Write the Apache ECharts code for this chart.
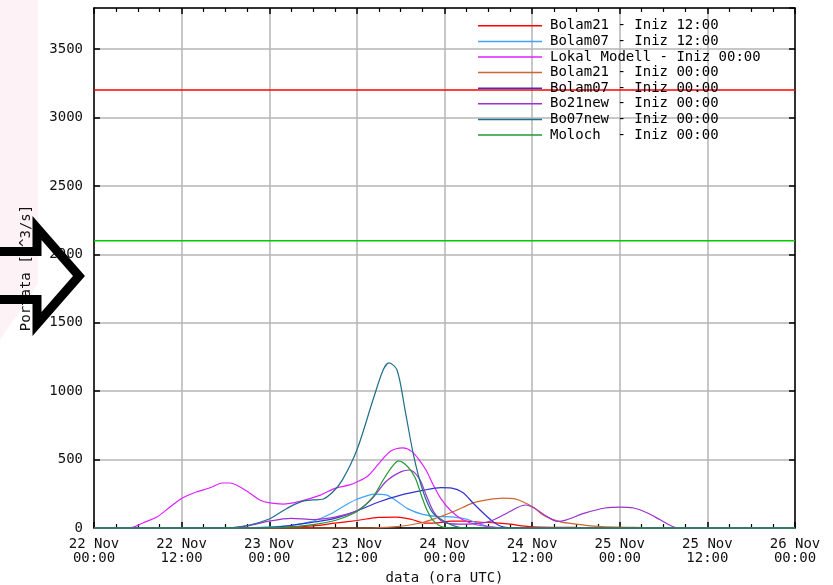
<!DOCTYPE html>
<html>
<head>
<meta charset="utf-8">
<script src="https://cdn.jsdelivr.net/npm/echarts@6/dist/echarts.min.js"></script>
<style>html,body{margin:0;padding:0;background:#fff;}#c{width:833px;height:585px;}</style>
</head>
<body>
<div id="c"></div>
<script>
// hours since 22 Nov 00:00 UTC
const xTickLabels = ['22 Nov\n00:00','22 Nov\n12:00','23 Nov\n00:00','23 Nov\n12:00','24 Nov\n00:00','24 Nov\n12:00','25 Nov\n00:00','25 Nov\n12:00','26 Nov\n00:00'];
const seriesNames = ['Bolam21 - Iniz 12:00','Bolam07 - Iniz 12:00','Lokal Modell - Iniz 00:00','Bolam21 - Iniz 00:00','Bolam07 - Iniz 00:00','Bo21new - Iniz 00:00','Bo07new - Iniz 00:00','Moloch  - Iniz 00:00'];
const seriesColors = ['#ff0000','#3ea2ff','#dd22ff','#cc6633','#3333cc','#9933cc','#1f6e8c','#229933'];

const bolam21_12_h = [0,22,26,30,33,36,39,41.5,43.5,45.5,47,49,51,53,55,57,59,61,66,75,77,96];
const bolam21_12_v = [0,0,5,15,35,55,78,80,62,35,38,50,50,42,38,28,14,7,4,2,0,0];

const bolam07_12_h = [0,20,24,27,30,32.3,34,36,38.5,40,41.5,43,45,47,49,51,52.5,54,56,96];
const bolam07_12_v = [0,0,8,20,50,100,153,210,248,242,195,140,100,85,82,65,35,10,0,0];

const lokal_h = [0,4,5.3,6.7,8.6,10.4,12.1,14,15.8,17.6,18.6,20,21.3,22.7,24.1,25.9,28.2,31,33,35,36,37.5,39,40.6,42.3,43.5,44.5,45.5,46.5,47.5,48.8,50.5,52.5,55,57,96];
const lokal_v = [0,0,5,37,80,153,219,263,292,329,329,300,256,205,183,175,195,240,290,315,336,380,470,560,585,560,500,420,310,215,130,60,22,5,0,0];

const bolam21_00_h = [0,38,41,43,45,47,49,50.5,52,54,56,57.5,58.8,60.2,61,62,63.9,66,68,70,74,80,96];
const bolam21_00_v = [0,0,8,20,40,75,115,150,185,208,219,215,190,150,115,80,45,28,15,8,4,0,0];

const bolam07_00_h = [0,22,26,30,33,36,39,42,45,47.5,49,50.5,51.9,53.3,54.7,56,58,96];
const bolam07_00_v = [0,0,12,42,70,125,190,240,275,295,292,260,183,110,44,8,0,0];

const bo21new_h = [0,18,21,24,27,30,33,36,38,40,42,43.2,44.5,45.5,46.5,47.8,50,52,54.3,56.6,58,59.1,60.3,61.7,63.5,64.6,67.3,70,72,73.9,75.8,77.6,79.4,80.5,96];
const bo21new_v = [0,0,15,50,70,62,80,125,210,340,410,424,365,240,120,45,28,30,50,110,150,168,146,95,48,58,110,146,153,146,110,58,7,0,0];

const bo07new_h = [0,18,21.3,24,25.4,27,28.5,30,31.3,32.7,34,36,38.2,39.6,40.4,41.5,42.6,43.7,45,46.4,48.4,50,52,96];
const bo07new_v = [0,0,22,66,110,160,195,205,210,263,350,570,935,1155,1206,1155,862,548,278,110,37,5,0,0];

const moloch_h = [0,20,26,30,33,36,38.2,39.6,40.8,41.7,43,44,44.9,45.6,46.4,47.8,50,96];
const moloch_v = [0,0,5,25,55,120,227,351,446,490,446,365,227,132,58,7,0,0];

const thresholdRed = 3200;
const thresholdGreen = 2100;

const seriesH = [bolam21_12_h,bolam07_12_h,lokal_h,bolam21_00_h,bolam07_00_h,bo21new_h,bo07new_h,moloch_h];
const seriesV = [bolam21_12_v,bolam07_12_v,lokal_v,bolam21_00_v,bolam07_00_v,bo21new_v,bo07new_v,moloch_v];

const FONT = 'DejaVu Sans Mono';
const chart = echarts.init(document.getElementById('c'));

const series = [
  {name:'thrRed', type:'line', xAxisIndex:0, yAxisIndex:0, data:[[0,thresholdRed],[96,thresholdRed]], symbol:'none', lineStyle:{color:'#ff0000', width:1.5}, silent:true, z:1},
  {name:'thrGreen', type:'line', xAxisIndex:0, yAxisIndex:0, data:[[0,thresholdGreen],[96,thresholdGreen]], symbol:'none', lineStyle:{color:'#00cc00', width:1.5}, silent:true, z:1}
];
seriesNames.forEach((n,i)=>{
  series.push({
    name:n, type:'line', xAxisIndex:0, yAxisIndex:0,
    data: seriesH[i].map((h,j)=>[h, seriesV[i][j]]),
    smooth:0.3, symbol:'none', color:seriesColors[i], clip:false,
    lineStyle:{color:seriesColors[i], width:1.2}, z:3
  });
});

function tick(){ return {show:true, inside:true, length:6, lineStyle:{color:'#000', width:1.5}}; }
function minor(){ return {show:true, splitNumber:4, length:4, lineStyle:{color:'#000', width:1.2}}; }
function line(){ return {show:true, onZero:false, lineStyle:{color:'#000', width:1.5}}; }

chart.setOption({
  animation:false,
  backgroundColor:'#fff',
  textStyle:{fontFamily:FONT},
  grid:{left:94, right:38, top:8, bottom:57, show:false, containLabel:false, outerBoundsMode:'none'},
  legend:{
    data:seriesNames, orient:'vertical', left:478, top:18, padding:0,
    itemWidth:64, itemHeight:1.5, itemGap:0, icon:'rect',
    textStyle:{fontFamily:FONT, fontSize:14, color:'#000', lineHeight:15.6, padding:[0,0,0,3]},
    selectedMode:false
  },
  xAxis:[
    {type:'value', min:0, max:96, interval:12, position:'bottom',
     axisLine:line(), axisTick:tick(), minorTick:minor(),
     splitLine:{show:true, lineStyle:{color:'#b4b4b4', width:1.5}},
     axisLabel:{inside:false, formatter:v=>xTickLabels[Math.round(v/12)], fontFamily:FONT, fontSize:14, color:'#111', lineHeight:14, margin:9, showMinLabel:true, showMaxLabel:true},
     name:'data (ora UTC)', nameLocation:'middle', nameGap:43, nameTextStyle:{fontFamily:FONT, fontSize:14, color:'#111'}},
    {type:'value', min:0, max:96, interval:12, position:'top',
     axisLine:line(), axisTick:tick(), minorTick:minor(),
     splitLine:{show:false}, axisLabel:{show:false}}
  ],
  yAxis:[
    {type:'value', min:0, max:3800, interval:500, position:'left',
     axisLine:line(), axisTick:tick(),
     splitLine:{show:true, lineStyle:{color:'#b4b4b4', width:1.5}},
     axisLabel:{inside:false, formatter:v=>String(v), fontFamily:FONT, fontSize:14, color:'#111', margin:11, showMaxLabel:false},
     name:'Portata [m^3/s]', nameLocation:'middle', nameGap:61, nameRotate:90,
     nameTextStyle:{fontFamily:FONT, fontSize:14, color:'#111'}},
    {type:'value', min:0, max:3800, interval:500, position:'right',
     axisLine:line(), axisTick:tick(), splitLine:{show:false}, axisLabel:{show:false}}
  ],
  graphic:[
    {type:'polygon', z:-10, shape:{points:[[0,0],[38,0],[38,283],[0,340]]}, style:{fill:'#fdf2f5'}, silent:true},
    {type:'polyline', z:100, shape:{points:[[-10,251.5],[37,251.5],[37,228],[79,276],[37,324],[37,299.5],[-10,299.5]]},
     style:{stroke:'#000', lineWidth:9, fill:null, lineJoin:'miter'}, silent:true}
  ],
  series:series
});
</script>
</body>
</html>
